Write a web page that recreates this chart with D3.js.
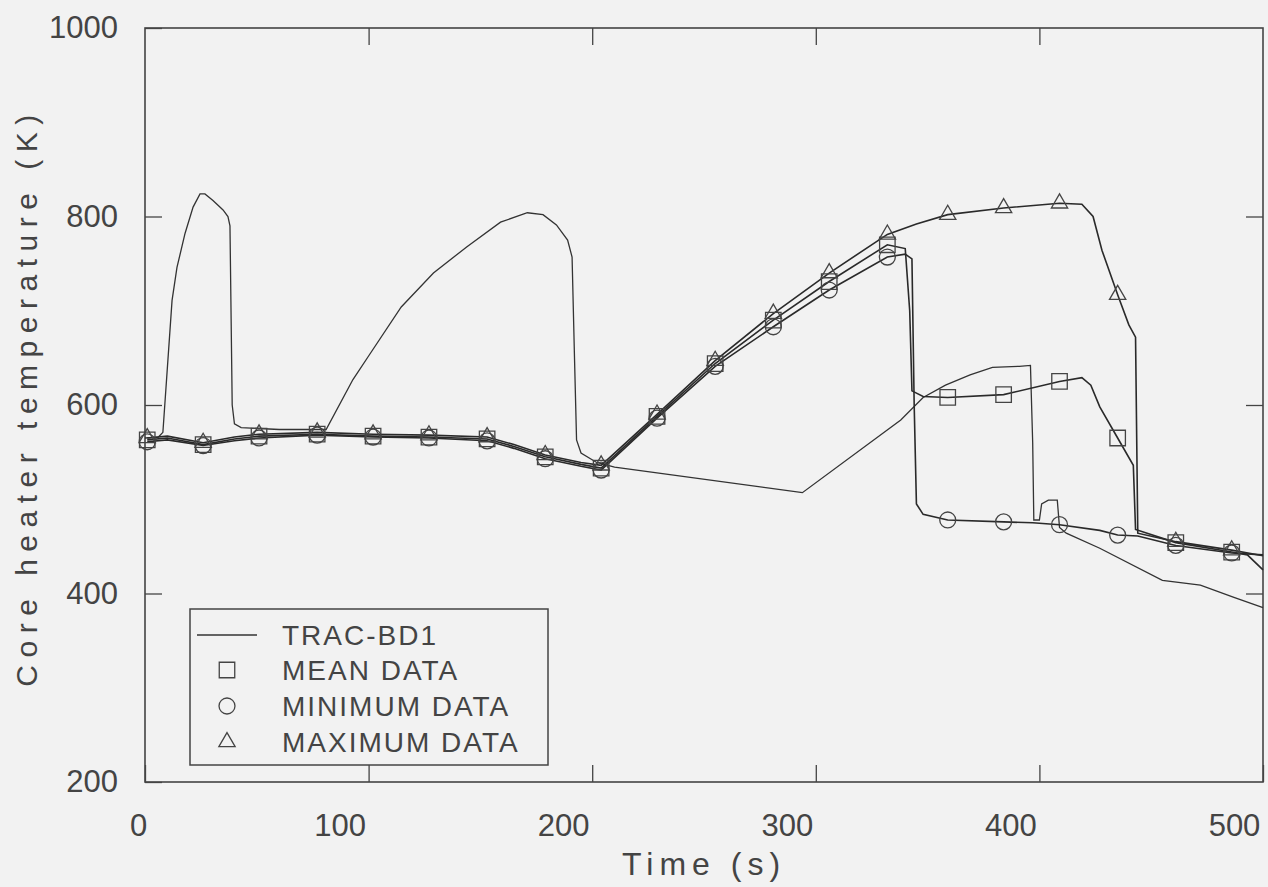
<!DOCTYPE html>
<html>
<head>
<meta charset="utf-8">
<script src="https://cdn.jsdelivr.net/npm/d3@7"></script>
<style>
  body { margin: 0; background: #f2f2f2; }
  svg { display: block; }
  .axis path { display: none; }
  .axis line { stroke: #444; stroke-width: 1.3; }
  .axis text { font-family: "Liberation Sans", sans-serif; font-size: 31px; fill: #444; }
  .title { font-family: "Liberation Sans", sans-serif; fill: #444; }
</style>
</head>
<body>
<div id="chart"></div>
<script>
"use strict";

// ---- data ----
const xTicks = [0, 100, 200, 300, 400, 500];
const yTicks = [200, 400, 600, 800, 1000];

// times at which the data symbols are drawn (s)
const markerTimes = [1, 26, 51, 77, 102, 127, 153, 179, 204, 229, 255, 281, 306, 332, 359, 384, 409, 435, 461, 486];
const meanMarkers = [563, 558, 567, 569, 567, 566, 564, 545, 533, 588, 644, 690, 731, 770, 608, 611, 625, 565, 454, 444];
const minMarkers  = [561, 557, 565, 568, 566, 565, 562, 543, 531, 586, 641, 683, 722, 757, 478, 476, 473, 462, 451, 443];
const maxMarkers  = [565, 560, 569, 571, 569, 568, 566, 547, 536, 590, 647, 697, 740, 781, 802, 809, 814, 717, 455, 446];

// continuous traces [time (s), temperature (K)]
const tracLine = [
  [0, 565], [6, 566], [8, 571], [12.1, 711], [14.3, 746], [17.9, 782], [21.5, 810], [24.6, 824],
  [26.8, 824], [30.4, 817], [34.9, 807], [37.1, 800], [38, 790], [39, 600], [40, 580], [43, 576],
  [60, 574], [81, 574], [93, 627], [100, 652], [114.6, 704], [129, 740], [144, 768], [159, 794],
  [171, 804], [178, 802], [184, 791], [189, 775], [191, 757], [192, 658], [193, 563], [195, 549],
  [202, 539], [210, 534], [294, 507], [338, 584], [348, 608], [358, 621], [369, 632], [379, 640],
  [391, 641], [396, 642], [397, 560], [397.5, 478], [400, 478], [401, 495], [404, 499], [408, 499],
  [409, 470], [412, 464], [427, 448], [455, 414], [472, 409], [487, 396], [500, 385]
];
const meanLine = [
  [1, 563], [10, 565], [26, 558], [40, 564], [51, 567], [77, 569], [102, 567], [127, 566],
  [153, 564], [165, 556], [179, 545], [195, 537], [204, 533], [229, 588], [255, 644], [281, 690],
  [306, 731], [332, 770], [340, 766], [342, 700], [343, 615], [348, 609], [359, 608], [384, 611],
  [409, 625], [419, 629], [423, 621], [427, 598], [435, 565], [442, 536], [443, 468], [461, 454],
  [486, 444], [493, 441], [500, 425]
];
const minLine = [
  [1, 561], [10, 563], [26, 557], [40, 562], [51, 565], [77, 568], [102, 566], [127, 565],
  [153, 562], [165, 554], [179, 543], [195, 535], [204, 531], [229, 586], [255, 641], [281, 683],
  [306, 722], [332, 757], [340, 760], [343, 755], [344, 600], [345, 495], [348, 484], [359, 478],
  [384, 476], [397, 475], [409, 473], [427, 467], [435, 462], [444, 461], [461, 451], [486, 443],
  [500, 441]
];
const maxLine = [
  [1, 565], [10, 567], [26, 560], [40, 566], [51, 569], [77, 571], [102, 569], [127, 568],
  [153, 566], [165, 558], [179, 547], [195, 539], [204, 536], [229, 590], [255, 647], [281, 697],
  [306, 740], [332, 781], [345, 792], [359, 802], [384, 809], [409, 814], [419, 813], [424, 800],
  [428, 764], [435, 717], [440, 685], [443, 672], [444, 464], [461, 455], [486, 446], [500, 440]
];

const legendLabels = ["TRAC-BD1", "MEAN DATA", "MINIMUM DATA", "MAXIMUM DATA"];

// ---- layout ----
const W = 1268, H = 887;
const margin = { top: 28, right: 5, bottom: 105, left: 145 };
const width = W - margin.left - margin.right;   // 1118
const height = H - margin.top - margin.bottom;  // 754

const svg = d3.select("#chart").append("svg")
  .attr("width", W)
  .attr("height", H);

svg.append("rect").attr("width", W).attr("height", H).attr("fill", "#f2f2f2");

const g = svg.append("g")
  .attr("transform", `translate(${margin.left},${margin.top})`);

const x = d3.scaleLinear().domain([0, 500]).range([0, width]);
const y = d3.scaleLinear().domain([200, 1000]).range([height, 0]);

// frame
g.append("rect")
  .attr("width", width)
  .attr("height", height)
  .attr("fill", "none")
  .attr("stroke", "#444")
  .attr("stroke-width", 1.6);

// axes (ticks point inward)
g.append("g")
  .attr("class", "axis")
  .attr("transform", `translate(0,${height})`)
  .call(d3.axisBottom(x).tickValues(xTicks).tickSize(-17).tickSizeOuter(0).tickPadding(32).tickFormat(d3.format("d")))
  .selectAll("text")
  .attr("dx", d => d === 0 ? -7 : -29);

g.append("g")
  .attr("class", "axis")
  .call(d3.axisTop(x).tickValues(xTicks.slice(1, -1)).tickSize(-17).tickSizeOuter(0).tickFormat(""));

g.append("g")
  .attr("class", "axis")
  .call(d3.axisLeft(y).tickValues(yTicks).tickSize(-17).tickSizeOuter(0).tickPadding(27).tickFormat(d3.format("d")));

g.append("g")
  .attr("class", "axis")
  .attr("transform", `translate(${width},0)`)
  .call(d3.axisRight(y).tickValues(yTicks.slice(1, -1)).tickSize(-17).tickSizeOuter(0).tickFormat(""));

// axis titles
svg.append("text")
  .attr("class", "title")
  .attr("text-anchor", "middle")
  .attr("transform", `translate(37,397)rotate(-90)`)
  .style("font-size", "30px")
  .style("letter-spacing", "7.5px")
  .text("Core heater temperature (K)");

svg.append("text")
  .attr("class", "title")
  .attr("text-anchor", "middle")
  .attr("x", margin.left + width / 2)
  .attr("y", 875)
  .style("font-size", "32px")
  .style("letter-spacing", "6px")
  .text("Time (s)");

// lines
const line = d3.line().curve(d3.curveLinear).x(d => x(d[0])).y(d => y(d[1]));

g.append("path").datum(tracLine)
  .attr("d", line).attr("fill", "none").attr("stroke", "#333").attr("stroke-width", 1.3);

[meanLine, minLine, maxLine].forEach(series => {
  g.append("path").datum(series)
    .attr("d", line).attr("fill", "none").attr("stroke", "#2a2a2a").attr("stroke-width", 1.6);
});

// markers
const symbols = [
  { vals: meanMarkers, type: d3.symbolSquare, size: 240 },
  { vals: minMarkers, type: d3.symbolCircle, size: 200 },
  { vals: maxMarkers, type: d3.symbolTriangle, size: 115 }
];

symbols.forEach(s => {
  g.append("g").selectAll("path")
    .data(markerTimes.map((t, i) => [t, s.vals[i]]))
    .enter()
    .append("path")
    .attr("transform", d => `translate(${x(d[0])},${y(d[1])})`)
    .attr("d", d3.symbol(s.type, s.size))
    .attr("fill", "none")
    .attr("stroke", "#444")
    .attr("stroke-width", 1.3);
});

// legend
const legend = svg.append("g").attr("transform", "translate(190,609)");
legend.append("rect")
  .attr("width", 358).attr("height", 156)
  .attr("fill", "#f2f2f2").attr("stroke", "#444").attr("stroke-width", 1.5);

const rowY = [26, 61, 97, 133];
legend.append("line")
  .attr("x1", 7).attr("x2", 67).attr("y1", rowY[0]).attr("y2", rowY[0])
  .attr("stroke", "#333").attr("stroke-width", 1.3);

symbols.forEach((s, i) => {
  legend.append("path")
    .attr("transform", `translate(37,${rowY[i + 1]})`)
    .attr("d", d3.symbol(s.type, s.size))
    .attr("fill", "none").attr("stroke", "#444").attr("stroke-width", 1.3);
});

legend.selectAll(".lg")
  .data(legendLabels)
  .enter()
  .append("text")
  .attr("class", "title")
  .attr("x", 92)
  .attr("y", (d, i) => rowY[i])
  .attr("dy", "0.36em")
  .style("font-size", "28px")
  .style("letter-spacing", "2px")
  .text(d => d);
</script>
</body>
</html>
